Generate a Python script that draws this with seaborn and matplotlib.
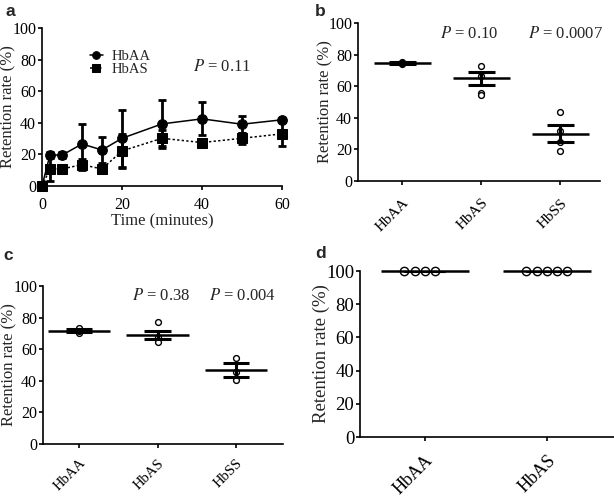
import numpy as np
import pandas as pd
import matplotlib
matplotlib.use("Agg")
import matplotlib.pyplot as plt
import seaborn as sns

# ---------------- data ----------------
time_min = [0, 2, 5, 10, 15, 20, 30, 40, 50, 60]
hbaa_mean = [0, 19.7, 19.5, 26.6, 22.8, 30.2, 39.3, 42.5, 39.1, 41.9]
hbaa_err = [0, 2.0, 2.0, 12.7, 8.0, 18.0, 15.0, 10.5, 5.3, 1.0]
hbas_mean = [0, 10.8, 10.8, 13.5, 10.8, 22.2, 30.2, 27.5, 30.2, 33.0]
hbas_err = [0, 7.5, 1.0, 3.5, 1.0, 10.5, 5.0, 1.0, 3.5, 7.7]
time_ticks = [0, 20, 40, 60]

genotypes_bc = ["HbAA", "HbAS", "HbSS"]
b_hbaa = [75.5, 74.5, 74.0, 75.0]
b_hbas = [73.0, 66.2, 56.0, 54.6]
b_hbss = [43.4, 31.7, 24.8, 19.0]
b_mean = [74.8, 65.0, 30.0]
b_sem = [0.6, 4.0, 5.2]
b_pvals = ["0.10", "0.0007"]

c_hbaa = [73.6, 70.4, 71.5]
c_hbas = [77.2, 67.5, 64.8]
c_hbss = [54.6, 45.8, 40.5]
c_mean = [71.6, 69.0, 46.8]
c_sem = [0.9, 2.3, 4.2]
c_pvals = ["0.38", "0.004"]

genotypes_d = ["HbAA", "HbAS"]
d_hbaa = [100, 100, 100, 100]
d_hbas = [100, 100, 100, 100, 100]
d_mean = [100, 100]
d_sem = [0, 0]

a_pval = "0.11"
y_ticks = [0, 20, 40, 60, 80, 100]

# ---------------- style ----------------
sns.set_theme(style="ticks")
plt.rcParams["font.family"] = ["Liberation Serif", "DejaVu Serif"]
plt.rcParams["mathtext.fontset"] = "stix"
plt.rcParams["axes.linewidth"] = 1.2
plt.rcParams["xtick.major.width"] = 1.2
plt.rcParams["ytick.major.width"] = 1.2
plt.rcParams["xtick.major.size"] = 3
plt.rcParams["ytick.major.size"] = 3
plt.rcParams["xtick.color"] = "black"
plt.rcParams["ytick.color"] = "black"
plt.rcParams["axes.edgecolor"] = "black"

W, H = 614, 497
fig = plt.figure(figsize=(W / 100, H / 100), dpi=100)


def px_axes(l, r, t, b):
    return fig.add_axes([l / W, 1 - b / H, (r - l) / W, (b - t) / H])


ax_a = px_axes(42, 282, 28, 186)
ax_b = px_axes(358, 600, 23, 181)
ax_c = px_axes(43, 283, 286, 444)
ax_d = px_axes(360, 614, 271, 437)

FS = 12
TFS = 11.5
for ax, fs, tfs, lx in ((ax_a, FS, TFS, -0.108), (ax_b, FS, TFS, -0.103),
                        (ax_c, FS, TFS, -0.108), (ax_d, 13.5, 13.5, -0.118)):
    sns.despine(ax=ax)
    ax.set_ylim(0, 100)
    ax.set_yticks(y_ticks)
    ax.tick_params(axis="y", labelsize=tfs, pad=1.2)
    ax.tick_params(axis="x", labelsize=tfs)
    ax.set_ylabel("Retention rate (%)", fontsize=fs)
    ax.yaxis.set_label_coords(lx, 0.5)

# ---------------- panel a ----------------
df_a = pd.DataFrame({
    "time": time_min * 2,
    "value": hbaa_mean + hbas_mean,
    "group": ["HbAA"] * len(time_min) + ["HbAS"] * len(time_min),
})
ax_a.errorbar(time_min, hbas_mean, yerr=hbas_err, fmt="none", ecolor="black",
              elinewidth=2, capsize=3, capthick=2, clip_on=False, zorder=3)
ax_a.errorbar(time_min, hbaa_mean, yerr=hbaa_err, fmt="none", ecolor="black",
              elinewidth=2, capsize=3, capthick=2, clip_on=False, zorder=3)
sns.lineplot(data=df_a, x="time", y="value", hue="group", style="group",
             palette={"HbAA": "black", "HbAS": "black"},
             markers={"HbAA": "o", "HbAS": "s"},
             dashes={"HbAA": "", "HbAS": (1.5, 1.5)},
             markersize=7, markeredgecolor="black", linewidth=1.1,
             ax=ax_a, zorder=4, clip_on=False)
ax_a.set_xlim(0, 60)
ax_a.set_xticks(time_ticks)
ax_a.tick_params(axis="x", pad=5)
ax_a.set_xlabel("Time (minutes)", fontsize=FS, labelpad=0)
leg = ax_a.legend(loc="center left", bbox_to_anchor=(0.175, 0.777), frameon=False,
                  fontsize=10.5, handlelength=0.9, handletextpad=0.6,
                  labelspacing=0.0, borderaxespad=0)
for h in leg.legend_handles:
    h.set_markersize(5.5)
ax_a.text(0.63, 0.753, r"$P$ = " + a_pval, transform=ax_a.transAxes,
          fontsize=FS, ha="left", va="center")


# ---------------- dot panels ----------------
def dot_panel(ax, cats, groups, means, sems, size, cfs, swarm=False, lw_frac=0.7,
              xpad=5):
    df = pd.DataFrame({
        "cat": sum([[c] * len(g) for c, g in zip(cats, groups)], []),
        "val": sum([list(g) for g in groups], []),
    })
    if swarm:
        sns.swarmplot(data=df, x="cat", y="val", order=cats, ax=ax, size=size,
                      marker="o", color="white", edgecolor="black",
                      linewidth=1.0, zorder=2)
    else:
        sns.stripplot(data=df, x="cat", y="val", order=cats, ax=ax, size=size,
                      jitter=False, marker="o", color="white",
                      edgecolor="black", linewidth=1.0, zorder=2)
    for coll in ax.collections:
        coll.set_clip_on(False)
        coll.set_facecolor("white")
        coll.set_edgecolor("black")
    xs = np.arange(len(cats))
    ax.hlines(means, xs - lw_frac / 2, xs + lw_frac / 2, color="black",
              linewidth=1.8, zorder=3, clip_on=False)
    m = np.array(means)
    s = np.array(sems)
    ax.vlines(xs, m - s, m + s, color="black", linewidth=2.2, zorder=3)
    ax.hlines(list(m + s) + list(m - s), list(xs - 0.17) * 2, list(xs + 0.17) * 2,
              color="black", linewidth=2.2, zorder=3)
    ax.set_xlabel("")
    ax.set_xticks(xs)
    ax.set_xticklabels(cats, rotation=45, ha="right", rotation_mode="anchor",
                       fontsize=cfs)
    ax.tick_params(axis="x", pad=xpad)


dot_panel(ax_b, genotypes_bc, [b_hbaa, b_hbas, b_hbss], b_mean, b_sem, 4.2, 11,
          lw_frac=0.72, xpad=8)
ax_b.set_xlim(-0.56, 2.5)
ax_b.text(0.85, 93, r"$P$ = " + b_pvals[0], fontsize=FS, ha="center", va="center")
ax_b.text(2.07, 93, r"$P$ = " + b_pvals[1], fontsize=FS, ha="center", va="center")

dot_panel(ax_c, genotypes_bc, [c_hbaa, c_hbas, c_hbss], c_mean, c_sem, 4.2, 10.5,
          lw_frac=0.8, xpad=6)
ax_c.set_xlim(-0.46, 2.6)
ax_c.text(1.05, 93.5, r"$P$ = " + c_pvals[0], fontsize=FS, ha="center", va="center")
ax_c.text(2.08, 93.5, r"$P$ = " + c_pvals[1], fontsize=FS, ha="center", va="center")

dot_panel(ax_d, genotypes_d, [d_hbaa, d_hbas], d_mean, d_sem, 6.0, 13,
          swarm=True, lw_frac=0.72, xpad=8)
ax_d.set_xlim(-0.53, 1.55)
ax_d.set_ylim(0, 100)

# panel letters
for lab, x, y in (("a", 5, 11), ("b", 315, 11), ("c", 3, 256), ("d", 315, 254)):
    fig.text(x / W, 1 - y / H, lab, fontsize=12.5, fontweight="bold",
             family=["Liberation Sans", "DejaVu Sans"], ha="left", va="center")

fig.savefig("out.png", dpi=100)
